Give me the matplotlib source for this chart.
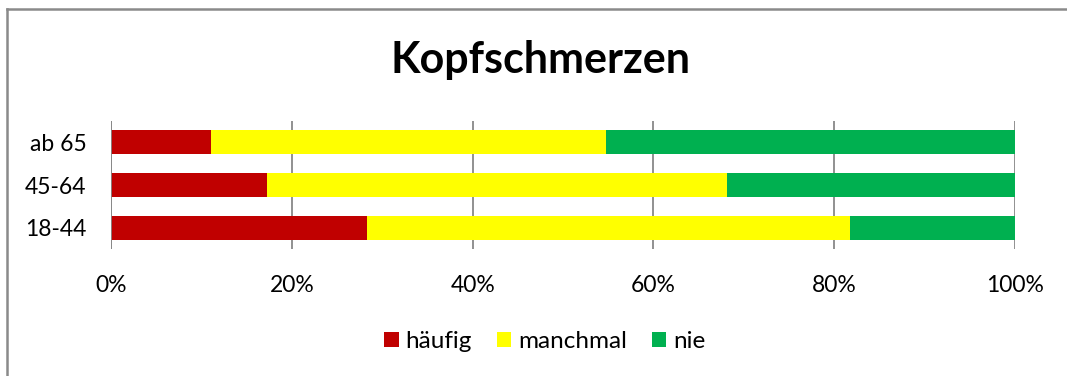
import numpy as np
import matplotlib.pyplot as plt
from matplotlib.lines import Line2D

plt.rcParams['font.family'] = ['Lato', 'DejaVu Sans']

groups = ['18-44', '45-64', 'ab 65']
haeufig = [28.3, 17.2, 11.0]
manchmal = [53.5, 50.9, 43.7]
nie = [18.2, 31.9, 45.3]
series_names = ['häufig', 'manchmal', 'nie']
colors = ['#C00000', '#FFFF00', '#00B050']
ticks = [0, 20, 40, 60, 80, 100]

W, H = 1067, 376
fig = plt.figure(figsize=(W / 100, H / 100), dpi=100)
ax = fig.add_axes([111.3 / W, 1 - 249 / H, 903.5 / W, 128 / H])

y = np.arange(len(groups))
left = np.zeros(len(groups))
for vals, name, c in zip([haeufig, manchmal, nie], series_names, colors):
    ax.barh(y, vals, left=left, height=0.56, color=c, label=name, zorder=3)
    left += np.array(vals)

ax.set_xlim(0, 100)
ax.set_ylim(-0.5, 2.5)
ax.set_xticks(ticks)
ax.set_xticklabels([f'{t}%' for t in ticks], fontsize=16.5)
ax.set_yticks(y)
ax.set_yticklabels(groups, fontsize=16.5)
ax.tick_params(length=0, pad=19, axis='x')
ax.tick_params(length=0, pad=18, axis='y')
ax.xaxis.grid(True, color='#888888', linewidth=1.3, zorder=0)
for s in ax.spines.values():
    s.set_visible(False)
ax.axvline(0, color='#888888', linewidth=1.3, zorder=4)

fig.text(540 / W, 1 - 60 / H, 'Kopfschmerzen', ha='center', va='center',
         fontsize=31, fontweight='bold')

handles, labels = ax.get_legend_handles_labels()
fig.legend(handles, labels, loc='center', bbox_to_anchor=(545 / W, 1 - 342 / H),
           ncol=3, frameon=False, fontsize=17.5, handlelength=0.58, handleheight=0.58,
           handletextpad=0.29, columnspacing=1.03)

# chart border (only top and left edges fall inside the canvas)
fig.add_artist(Line2D([6.5 / W, 6.5 / W], [0, 1 - 8.5 / H], color='#8a8a8a', linewidth=1.8))
fig.add_artist(Line2D([6.5 / W, 1], [1 - 8.5 / H, 1 - 8.5 / H], color='#8a8a8a', linewidth=1.8))

fig.savefig('out.png', dpi=100)
